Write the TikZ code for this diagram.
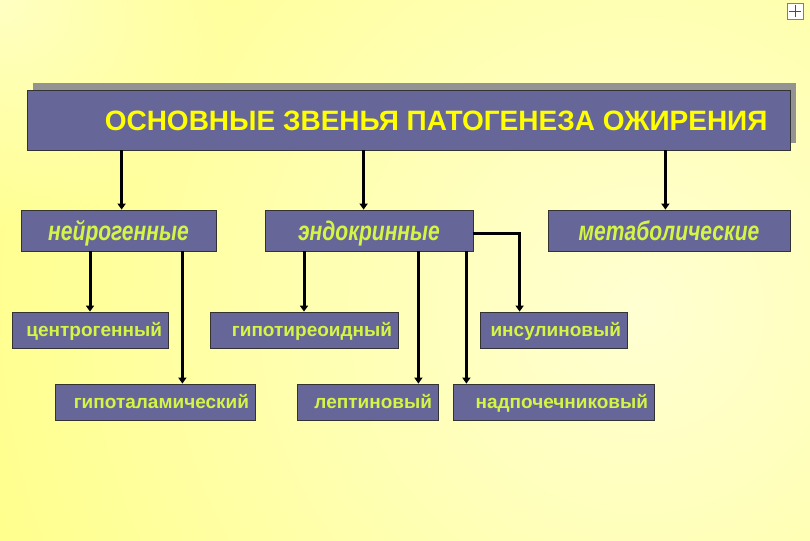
\documentclass[tikz,border=0pt]{standalone}
\usepackage{fontspec}
\usepackage{tikz}
\usepackage{xcolor}
\usetikzlibrary{arrows.meta, positioning, shadows, fadings}
\setmainfont{Liberation Sans}
\newfontfamily\narrowfont[FakeStretch=0.78]{Liberation Sans}
\definecolor{Slate_Box}{HTML}{666699}
\definecolor{Title_Yellow}{HTML}{FFFF00}
\definecolor{Leaf_Green}{HTML}{D4F545}
\definecolor{Back_Yellow}{HTML}{FFFF5E}
\definecolor{Back_Pale}{HTML}{FFFFD2}
\tikzfading[name=pale fade, inner color=transparent!0, outer color=transparent!100]

\tikzset{
    box/.style={draw=black!80, line width=0.8pt, fill=Slate_Box, inner sep=0pt},
    titlebox/.style={box, minimum width=763pt, minimum height=60pt,
        drop shadow={shadow xshift=6pt, shadow yshift=7pt, fill=gray!85, opacity=1}},
    groupbox/.style={box, minimum width=#1, minimum height=41pt, text height=25pt, text depth=6pt,
        text=Leaf_Green, font=\narrowfont\bfseries\itshape\fontsize{27}{28}\selectfont},
    leafbox/.style={box, text width=#1, align=right, inner xsep=6pt, minimum height=36pt,
        text height=17.5pt, text depth=4pt,
        text=Leaf_Green, font=\bfseries\fontsize{19}{20}\selectfont},
    link/.style={line width=3pt, -{Triangle[length=6pt,width=8pt]}}
}

\begin{document}
\begin{tikzpicture}[x=1pt, y=-1pt]
    % background
    \useasboundingbox (0,0) rectangle (810,540);
    \fill[Back_Yellow] (0,0) rectangle (810,540);
    \begin{scope}
        \clip (0,0) rectangle (810,540);
        \shade[inner color=Back_Pale, outer color=Back_Yellow] (640,310) circle (1150);
        \fill[Back_Pale, path fading=pale fade, fill opacity=0.8] (0,0) circle (230);
    \end{scope}
    % small slide icon
    \draw[gray, fill=white] (787,3) rectangle (803,19);
    \draw[black!70, line width=0.8pt] (795,5) -- (795,17) (789,11) -- (801,11);

    % Top
    \node[titlebox] (title) at (408.5,120) {};
    \node[anchor=east, text=Title_Yellow, font=\bfseries\fontsize{28}{29}\selectfont]
        at (771,121) {ОСНОВНЫЕ ЗВЕНЬЯ ПАТОГЕНЕЗА ОЖИРЕНИЯ};

    % Groups
    \node[groupbox=195pt] (neuro) at (118.5,230.5) {нейрогенные};
    \node[groupbox=208pt] (endo) at (369,230.5) {эндокринные};
    \node[groupbox=242pt] (meta) at (669,230.5) {метаболические};

    % Leaves, row 1
    \node[leafbox=144pt] (centro) at (90,330) {центрогенный};
    \node[leafbox=176pt] (hypothyr) at (304,330) {гипотиреоидный};
    \node[leafbox=135pt] (insul) at (553.5,330) {инсулиновый};
    % Leaves, row 2
    \node[leafbox=188pt] (hypothal) at (155,402) {гипоталамический};
    \node[leafbox=129pt] (lept) at (367.5,402) {лептиновый};
    \node[leafbox=189pt] (adren) at (553.5,402) {надпочечниковый};

    % Links from title
    \draw[link] ([xshift=95pt]title.south west) -- ([xshift=95pt]title.south west |- neuro.north);
    \draw[link] ([xshift=337pt]title.south west) -- ([xshift=337pt]title.south west |- endo.north);
    \draw[link] ([xshift=-125pt]title.south east) -- ([xshift=-125pt]title.south east |- meta.north);

    % Links from groups
    \draw[link] (neuro.south -| centro.north) -- (centro.north);
    \draw[link] ([xshift=-34pt]neuro.south east) -- ([xshift=-34pt]neuro.south east |- hypothal.north);
    \draw[link] (endo.south -| hypothyr.north) -- (hypothyr.north);
    \draw[link] ([xshift=-55pt]endo.south east) -- ([xshift=-55pt]endo.south east |- lept.north);
    \draw[link] ([xshift=-7pt]endo.south east) -- ([xshift=-7pt]endo.south east |- adren.north);
    \draw[link] ([yshift=-2.5pt]endo.east) -| ([xshift=40pt]insul.north west);
\end{tikzpicture}
\end{document}
